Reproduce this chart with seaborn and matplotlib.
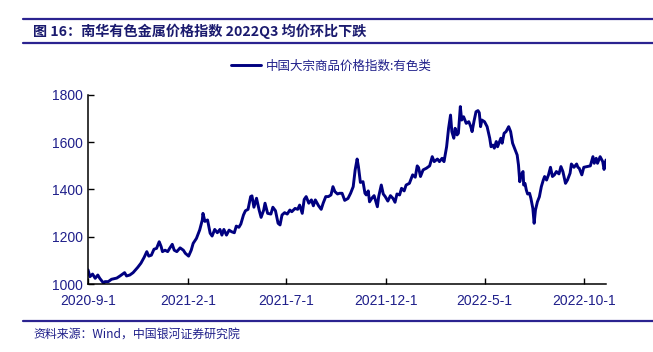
import numpy as np
import pandas as pd
import seaborn as sns
import matplotlib.pyplot as plt
from matplotlib.lines import Line2D

# 南华有色金属价格指数
dates = [
    "2020-09-01", "2020-09-04", "2020-09-08", "2020-09-12", "2020-09-16", "2020-09-19",
    "2020-09-25", "2020-09-27", "2020-10-02", "2020-10-07", "2020-10-15", "2020-10-20",
    "2020-10-27", "2020-10-30", "2020-11-04", "2020-11-09", "2020-11-16", "2020-11-21",
    "2020-11-26", "2020-11-30", "2020-12-03", "2020-12-07", "2020-12-11", "2020-12-15",
    "2020-12-19", "2020-12-22", "2020-12-24", "2020-12-28", "2021-01-01", "2021-01-04",
    "2021-01-08", "2021-01-11", "2021-01-15", "2021-01-20", "2021-01-25", "2021-01-28",
    "2021-02-02", "2021-02-06", "2021-02-09", "2021-02-14", "2021-02-19", "2021-02-23",
    "2021-02-24", "2021-02-27", "2021-03-03", "2021-03-07", "2021-03-10", "2021-03-14",
    "2021-03-18", "2021-03-22", "2021-03-25", "2021-03-28", "2021-04-01", "2021-04-05",
    "2021-04-09", "2021-04-13", "2021-04-16", "2021-04-20", "2021-04-23", "2021-04-27",
    "2021-04-30", "2021-05-04", "2021-05-08", "2021-05-10", "2021-05-13", "2021-05-17",
    "2021-05-21", "2021-05-24", "2021-05-28", "2021-05-30", "2021-06-03", "2021-06-08",
    "2021-06-11", "2021-06-15", "2021-06-19", "2021-06-22", "2021-06-25", "2021-06-29",
    "2021-07-03", "2021-07-07", "2021-07-10", "2021-07-15", "2021-07-19", "2021-07-22",
    "2021-07-26", "2021-07-29", "2021-08-01", "2021-08-05", "2021-08-09", "2021-08-12",
    "2021-08-15", "2021-08-20", "2021-08-24", "2021-08-27", "2021-08-31", "2021-09-04",
    "2021-09-08", "2021-09-11", "2021-09-14", "2021-09-18", "2021-09-21", "2021-09-25",
    "2021-09-29", "2021-10-04", "2021-10-08", "2021-10-12", "2021-10-15", "2021-10-18",
    "2021-10-20", "2021-10-23", "2021-10-27", "2021-10-30", "2021-11-01", "2021-11-04",
    "2021-11-06", "2021-11-10", "2021-11-13", "2021-11-15", "2021-11-18", "2021-11-20",
    "2021-11-24", "2021-11-27", "2021-11-30", "2021-12-04", "2021-12-08", "2021-12-12",
    "2021-12-15", "2021-12-18", "2021-12-22", "2021-12-25", "2021-12-29", "2022-01-01",
    "2022-01-06", "2022-01-11", "2022-01-15", "2022-01-18", "2022-01-20", "2022-01-23",
    "2022-01-27", "2022-02-01", "2022-02-06", "2022-02-10", "2022-02-13", "2022-02-18",
    "2022-02-21", "2022-02-25", "2022-02-28", "2022-03-04", "2022-03-07", "2022-03-10",
    "2022-03-12", "2022-03-15", "2022-03-17", "2022-03-20", "2022-03-22", "2022-03-25",
    "2022-03-27", "2022-03-30", "2022-04-03", "2022-04-07", "2022-04-10", "2022-04-12",
    "2022-04-15", "2022-04-18", "2022-04-21", "2022-04-23", "2022-04-25", "2022-04-27",
    "2022-05-01", "2022-05-05", "2022-05-09", "2022-05-11", "2022-05-14", "2022-05-16",
    "2022-05-19", "2022-05-21", "2022-05-26", "2022-05-28", "2022-05-31", "2022-06-03",
    "2022-06-07", "2022-06-10", "2022-06-13", "2022-06-17", "2022-06-20", "2022-06-22",
    "2022-06-24", "2022-06-26", "2022-06-29", "2022-06-30", "2022-07-02", "2022-07-04",
    "2022-07-06", "2022-07-09", "2022-07-11", "2022-07-14", "2022-07-16", "2022-07-18",
    "2022-07-21", "2022-07-24", "2022-07-27", "2022-07-30", "2022-08-01", "2022-08-04",
    "2022-08-07", "2022-08-10", "2022-08-13", "2022-08-16", "2022-08-19", "2022-08-23",
    "2022-08-26", "2022-08-29", "2022-09-02", "2022-09-05", "2022-09-09", "2022-09-11",
    "2022-09-15", "2022-09-19", "2022-09-21", "2022-09-23", "2022-09-27", "2022-09-30",
    "2022-10-05", "2022-10-10", "2022-10-14", "2022-10-16", "2022-10-19", "2022-10-21",
    "2022-10-25", "2022-10-29", "2022-10-31", "2022-11-03",
]
values = [
    1060, 1031, 1042, 1024, 1038, 1024, 1003, 1010, 1010, 1020, 1025, 1034,
    1048, 1034, 1038, 1048, 1070, 1088, 1113, 1137, 1118, 1122, 1147, 1151,
    1179, 1158, 1137, 1143, 1137, 1151, 1168, 1143, 1137, 1153, 1143, 1130,
    1118, 1143, 1172, 1193, 1229, 1271, 1299, 1265, 1271, 1215, 1203, 1231,
    1217, 1231, 1207, 1231, 1207, 1228, 1221, 1217, 1245, 1240, 1254, 1292,
    1310, 1316, 1370, 1373, 1325, 1363, 1313, 1282, 1313, 1342, 1299, 1296,
    1325, 1310, 1257, 1250, 1292, 1302, 1296, 1313, 1306, 1320, 1316, 1334,
    1299, 1358, 1370, 1342, 1356, 1331, 1356, 1331, 1316, 1342, 1370, 1370,
    1377, 1412, 1391, 1381, 1384, 1384, 1354, 1362, 1384, 1412, 1483, 1529,
    1497, 1430, 1433, 1384, 1377, 1394, 1348, 1365, 1374, 1355, 1327, 1370,
    1419, 1381, 1370, 1351, 1374, 1362, 1346, 1381, 1377, 1405, 1394, 1419,
    1426, 1462, 1452, 1500, 1493, 1455, 1483, 1490, 1500, 1539, 1518, 1529,
    1518, 1532, 1518, 1581, 1659, 1715, 1645, 1617, 1659, 1631, 1638, 1751,
    1694, 1708, 1680, 1687, 1666, 1645, 1690, 1729, 1734, 1725, 1666, 1694,
    1687, 1666, 1617, 1581, 1588, 1575, 1603, 1581, 1617, 1596, 1638, 1645,
    1666, 1645, 1596, 1567, 1546, 1504, 1433, 1462, 1476, 1419, 1426, 1398,
    1381, 1384, 1363, 1320, 1257, 1313, 1348, 1369, 1412, 1440, 1455, 1440,
    1462, 1494, 1455, 1462, 1476, 1466, 1497, 1476, 1426, 1440, 1469, 1508,
    1494, 1508, 1494, 1490, 1462, 1494, 1497, 1500, 1539, 1511, 1532, 1511,
    1539, 1518, 1485, 1525,
]
tick_dates = ["2020-09-01", "2021-02-01", "2021-07-01", "2021-12-01", "2022-05-01", "2022-10-01"]
tick_labels = ["2020-9-1", "2021-2-1", "2021-7-1", "2021-12-1", "2022-5-1", "2022-10-1"]
y_ticks = [1000, 1200, 1400, 1600, 1800]

series_name = "中国大宗商品价格指数:有色类"
title = "图 16：南华有色金属价格指数 2022Q3 均价环比下跌"
source = "资料来源：Wind，中国银河证券研究院"

df = pd.DataFrame({"date": pd.to_datetime(dates), "value": values, "series": series_name})

sns.set_style("ticks")
plt.rcParams["font.family"] = ["Liberation Sans", "Noto Sans CJK SC", "DejaVu Sans"]

navy = "#000080"
text_navy = "#1f1f8a"
rule_col = "#2b2390"

fig = plt.figure(figsize=(6.53, 3.52), dpi=100)
ax = fig.add_axes([88 / 653, 1 - 284 / 352, (606 - 88) / 653, (284 - 95) / 352])

sns.lineplot(data=df, x="date", y="value", hue="series", palette=[navy],
             linewidth=2.1, ax=ax)

ax.set_xlim(df["date"].min(), df["date"].max())
ax.set_ylim(1000, 1800)
ax.set_yticks(y_ticks)
ax.set_xticks(pd.to_datetime(tick_dates))
ax.set_xticklabels(tick_labels)
ax.set_xlabel("")
ax.set_ylabel("")
ax.tick_params(direction="in", length=4, width=1, colors="black",
               labelcolor=text_navy, labelsize=10)
ax.tick_params(axis="x", pad=7)
for side in ["top", "right"]:
    ax.spines[side].set_visible(False)
for side in ["left", "bottom"]:
    ax.spines[side].set_linewidth(1.1)
    ax.spines[side].set_color("black")

leg = ax.legend(loc="center", bbox_to_anchor=(331 / 653, 1 - 66 / 352),
                bbox_transform=fig.transFigure, frameon=False,
                prop={"family": ["Noto Sans CJK SC"], "size": 9},
                handlelength=2.4, handletextpad=0.4)
for t in leg.get_texts():
    t.set_color(text_navy)

# header / footer rules and text
for yy in [1 - 19 / 352, 1 - 43 / 352, 1 - 321 / 352]:
    fig.add_artist(Line2D([23 / 653, 1], [yy, yy], transform=fig.transFigure,
                          color=rule_col, linewidth=1.6))
fig.text(33 / 653, 1 - 31 / 352, title, fontsize=10.2, fontweight="bold",
         color="#1a1a6e", va="center", family=["Noto Sans CJK SC", "DejaVu Sans"])
fig.text(33 / 653, 1 - 334 / 352, source, fontsize=8.6, style="italic",
         color=text_navy, va="center", family=["Noto Sans CJK SC", "DejaVu Sans"])

fig.savefig("out.png", dpi=100)
